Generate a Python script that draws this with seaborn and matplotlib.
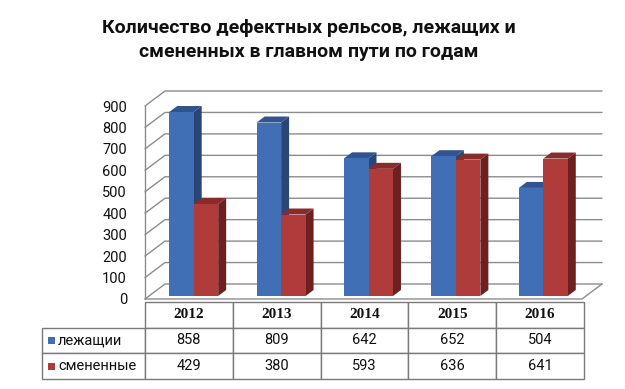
import numpy as np
import pandas as pd
import matplotlib
matplotlib.use('Agg')
import matplotlib.pyplot as plt
import matplotlib.transforms as mtransforms
from matplotlib.patches import Polygon, Rectangle
from matplotlib.lines import Line2D
import seaborn as sns

# ---- data ----
years = ['2012', '2013', '2014', '2015', '2016']
lying = [858, 809, 642, 652, 504]
replaced = [429, 380, 593, 636, 641]
series_names = ['лежащии', 'смененные']
title = 'Количество дефектных рельсов, лежащих и\nсмененных в главном пути по годам'
y_ticks = list(range(0, 1000, 100))

sns.set_theme(style='white')
plt.rcParams['font.family'] = ['Roboto', 'DejaVu Sans']

W, H = 625, 389
fig = plt.figure(figsize=(W / 100, H / 100), dpi=100)
fig.patch.set_facecolor('white')


def fr(x0, y0, x1, y1):
    return [x0 / W, 1 - y1 / H, (x1 - x0) / W, (y1 - y0) / H]


blue, red = '#416fb6', '#b03b3b'
blue_side, blue_top = '#2a4677', '#31548e'
red_side, red_top = '#6e1f1f', '#8a2b2b'
grid_col = '#8c8c8c'

ax = fig.add_axes(fr(145, 106, 582, 299))
df = pd.DataFrame({
    'year': years * 2,
    'value': lying + replaced,
    'series': [series_names[0]] * len(years) + [series_names[1]] * len(years),
})
sns.barplot(data=df, x='year', y='value', hue='series', order=years,
            hue_order=series_names, palette=[blue, red], saturation=1,
            width=0.56, gap=0, legend=False, ax=ax, linewidth=0, errorbar=None)
ax.set_xlim(-0.5, len(years) - 0.5)
ax.set_ylim(0, 900)
ax.set_facecolor('none')
for s in ax.spines.values():
    s.set_visible(False)
ax.set_xlabel('')
ax.set_ylabel('')
ax.set_xticks([])
ax.set_yticks(y_ticks)
ax.tick_params(axis='y', length=0, pad=13, labelsize=10.5, labelcolor='#111111')

ident = mtransforms.IdentityTransform()
DX, DY = 20, 15  # wall depth in pixels
xl, xr = -0.5, len(years) - 0.5


def add_line(xs, ys):
    ln = Line2D(xs, ys, transform=ident, color=grid_col, lw=1, zorder=0.5)
    ln.set_clip_on(False)
    ax.add_artist(ln)


# walls and gridlines
for v in y_ticks:
    p = ax.transData.transform((xl, v))
    q = ax.transData.transform((xr, v))
    add_line([p[0], p[0] + DX, q[0] + DX], [p[1], p[1] + DY, q[1] + DY])
p0 = ax.transData.transform((xl, 0))
p9 = ax.transData.transform((xl, 900))
q0 = ax.transData.transform((xr, 0))
add_line([p0[0], p9[0]], [p0[1], p9[1]])
add_line([p0[0], q0[0], q0[0] + DX], [p0[1], q0[1], q0[1] + DY])

# 3D faces for bars
bar_off = mtransforms.offset_copy(ax.transData, fig=fig, x=5, y=3, units='dots')
bdx, bdy = 8, 6
patches = sorted([p for p in ax.patches if isinstance(p, Rectangle)], key=lambda r: r.get_x())
for i, p in enumerate(patches):
    is_blue = np.allclose(p.get_facecolor()[:3], matplotlib.colors.to_rgb(blue), atol=0.02)
    p.set_transform(bar_off)
    p.set_zorder(3 + i)
    p.set_clip_on(False)
    x0, y0 = bar_off.transform((p.get_x(), p.get_y()))
    x1, y1 = bar_off.transform((p.get_x() + p.get_width(), p.get_y() + p.get_height()))
    side = Polygon([(x1, y0), (x1 + bdx, y0 + bdy), (x1 + bdx, y1 + bdy), (x1, y1)],
                   closed=True, transform=ident, facecolor=blue_side if is_blue else red_side,
                   edgecolor='none', zorder=2.5 + i, clip_on=False)
    top = Polygon([(x0, y1), (x0 + bdx, y1 + bdy), (x1 + bdx, y1 + bdy), (x1, y1)],
                  closed=True, transform=ident, facecolor=blue_top if is_blue else red_top,
                  edgecolor='none', zorder=2.5 + i, clip_on=False)
    ax.add_artist(side)
    ax.add_artist(top)

# title
fig.text(309 / W, 1 - 40 / H, title, ha='center', va='center', fontsize=14,
         fontweight='bold', color='#111111', linespacing=1.38)

# data table
tax = fig.add_axes(fr(42, 302, 584, 379))
tax.axis('off')
tw = 542
col_w = [103 / tw] + [87.8 / tw] * len(years)
cell_text = [[''] + years,
             [''] + [str(v) for v in lying],
             [''] + [str(v) for v in replaced]]
tbl = tax.table(cellText=cell_text, colWidths=col_w, bbox=[0, 0, 1, 1], cellLoc='center')
tbl.auto_set_font_size(False)
for (r, c), cell in tbl.get_celld().items():
    cell.set_edgecolor('#7a7a7a')
    cell.set_linewidth(1)
    cell.set_facecolor('white')
    if r == 0:
        cell.get_text().set_fontfamily('Liberation Serif')
        cell.get_text().set_fontweight('bold')
        cell.get_text().set_fontsize(11)
    else:
        cell.get_text().set_fontsize(10.5)
    cell.get_text().set_color('#111111')
tbl[0, 0].visible_edges = ''

for k, (name, col) in enumerate(zip(series_names, [blue, red])):
    yc = 1 - (k + 1.5) / 3
    tax.add_patch(Rectangle((6 / tw, yc - 0.045), 7 / tw, 0.09, transform=tax.transAxes,
                            facecolor=col, edgecolor='none', clip_on=False, zorder=5))
    tax.text(16 / tw, yc, name, transform=tax.transAxes, ha='left', va='center',
             fontsize=10.5, color='#111111', zorder=5)

fig.savefig('out.png', dpi=100, facecolor='white')
